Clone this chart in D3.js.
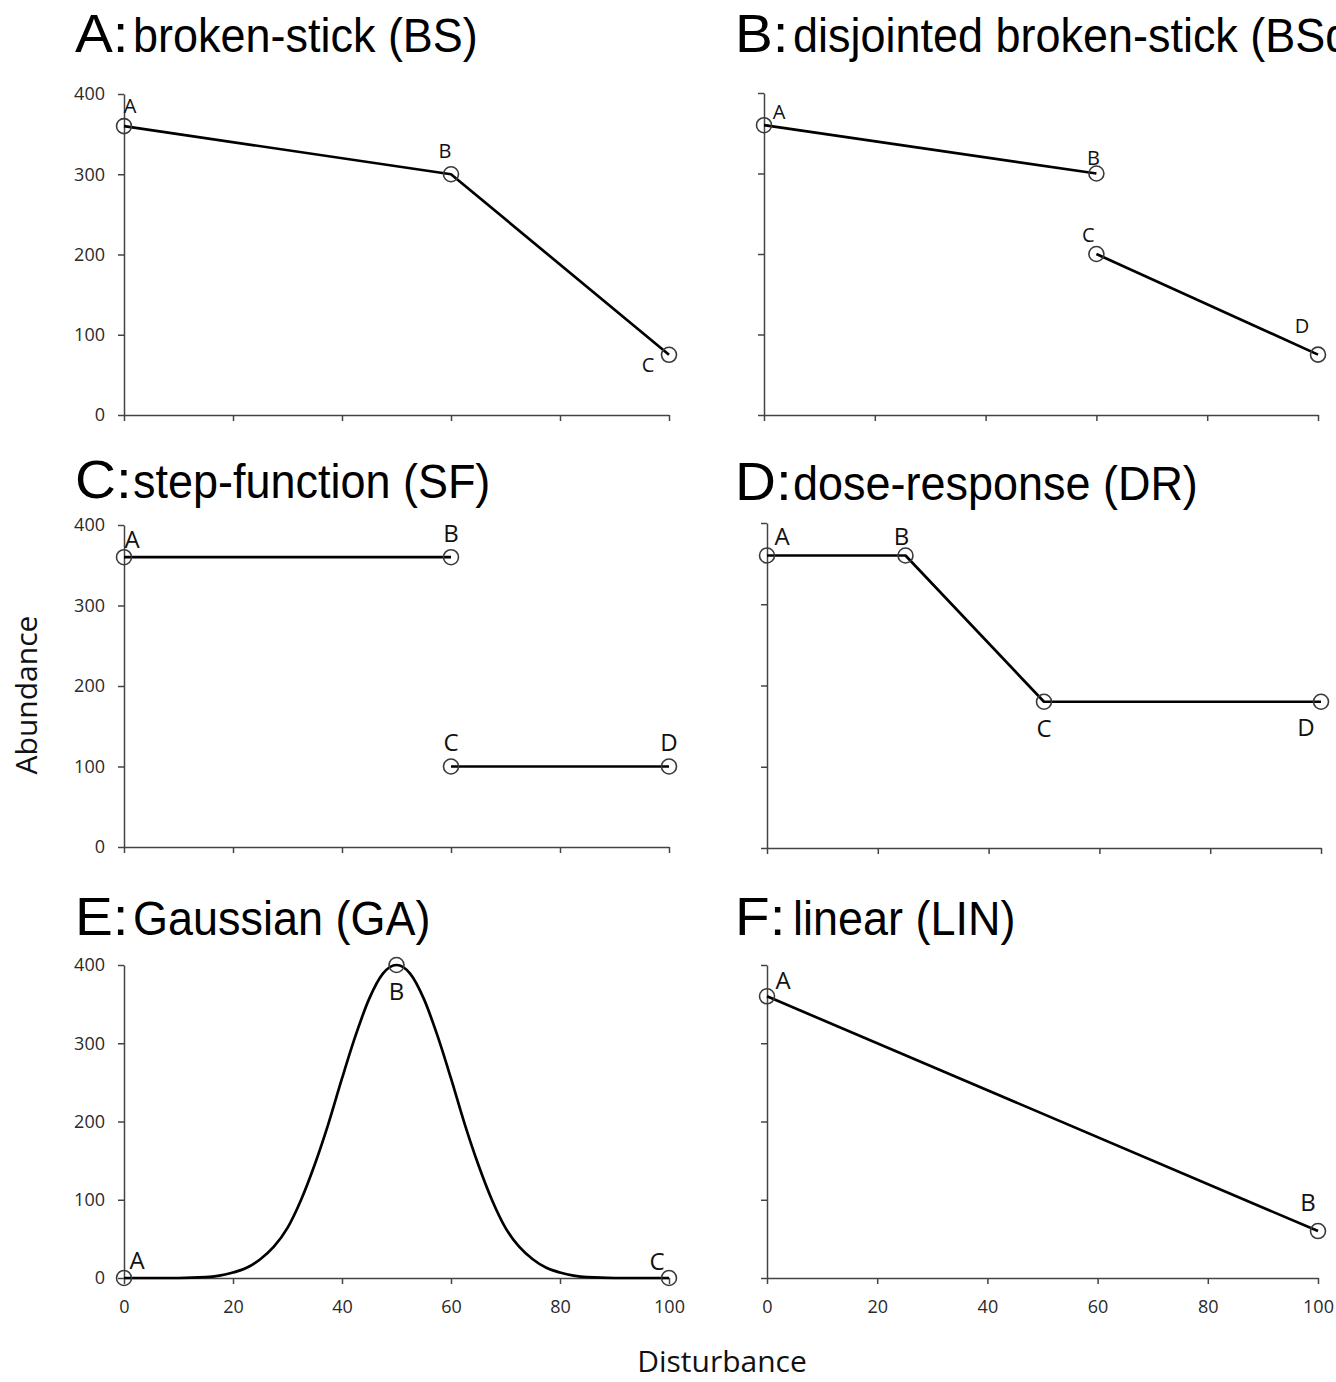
<!DOCTYPE html>
<html><head><meta charset="utf-8">
<script src="https://cdn.jsdelivr.net/npm/d3@7"></script>
<style>
body{margin:0;background:#fff;}
svg{display:block;}
</style></head>
<body>
<svg id="chart" width="1336" height="1382"></svg>
<script>
// ---------- DATA ----------
const panelLetters = ["A", "B", "C", "D", "E", "F"];
const panelTitles = ["broken-stick (BS)", "disjointed broken-stick (BSd)", "step-function (SF)",
                     "dose-response (DR)", "Gaussian (GA)", "linear (LIN)"];
const yTicks = [0, 100, 200, 300, 400];
const xTicks = [0, 20, 40, 60, 80, 100];
const xTickLabels = ["0", "20", "40", "60", "80", "100"];

// A: broken-stick
const bsX = [0, 60, 100];
const bsY = [360, 300, 75];
const bsNames = ["A", "B", "C"];
// B: disjointed broken-stick (two segments)
const bsdX1 = [0, 60];   const bsdY1 = [360, 300]; const bsdNames1 = ["A", "B"];
const bsdX2 = [60, 100]; const bsdY2 = [200, 75];  const bsdNames2 = ["C", "D"];
// C: step-function (two segments)
const sfX1 = [0, 60];   const sfY1 = [360, 360]; const sfNames1 = ["A", "B"];
const sfX2 = [60, 100]; const sfY2 = [100, 100]; const sfNames2 = ["C", "D"];
// D: dose-response
const drX = [0, 25, 50, 100];
const drY = [360, 360, 180, 180];
const drNames = ["A", "B", "C", "D"];
// E: Gaussian curve
const gaCurveX = [0, 5, 10, 15, 17.5, 20, 22.5, 25, 27.5, 30, 32.5, 35, 37.5, 40, 42.5, 45, 47.5, 50,
                  52.5, 55, 57.5, 60, 62.5, 65, 67.5, 70, 72.5, 75, 77.5, 80, 82.5, 85, 90, 95, 100];
const gaCurveY = [0, 0, 0, 1, 3, 7, 13, 24, 40, 64, 100, 145, 197, 255, 310, 357, 389, 400,
                  389, 357, 310, 255, 197, 145, 100, 64, 40, 24, 13, 7, 3, 1, 0, 0, 0];
const gaX = [0, 50, 100];
const gaY = [0, 400, 0];
const gaNames = ["A", "B", "C"];
// F: linear
const linX = [0, 100];
const linY = [360, 60];
const linNames = ["A", "B"];

// ---------- LAYOUT / STYLE ----------
const frames = [
  {x0: 124, x1: 669,  yTop: 94,  yBot: 415,  titleX: 75,  titleY: 52,  yLabels: true,  xLabels: false, lblSize: 20},
  {x0: 764, x1: 1318, yTop: 93,  yBot: 415,  titleX: 735, titleY: 52,  yLabels: false, xLabels: false, lblSize: 20},
  {x0: 124, x1: 669,  yTop: 525, yBot: 847,  titleX: 75,  titleY: 498, yLabels: true,  xLabels: false, lblSize: 24},
  {x0: 767, x1: 1321, yTop: 523, yBot: 848,  titleX: 735, titleY: 500, yLabels: false, xLabels: false, lblSize: 24},
  {x0: 124, x1: 669,  yTop: 965, yBot: 1278, titleX: 75,  titleY: 935, yLabels: true,  xLabels: true,  lblSize: 24},
  {x0: 767, x1: 1318, yTop: 965, yBot: 1278, titleX: 735, titleY: 935, yLabels: false, xLabels: true,  lblSize: 24}
];
// label offsets (dx, dy of baseline centre relative to the point), per panel
const labelOffsets = [
  [[6, -13], [-6, -16], [-21, 17]],
  [[15, -6], [-3, -9], [-8, -12], [-16, -22]],
  [[8, -9], [0, -15], [0, -16], [0, -16]],
  [[15, -11], [-4, -11], [0, 35], [-15, 34]],
  [[13, -9], [0, 35], [-12, -8]],
  [[16, -7], [-10, -20]]
];

const tickFont = "'Open Sans', 'Noto Sans', sans-serif";
const titleFont = "'Liberation Sans', Arial, sans-serif";
const svg = d3.select("#chart");

const zip = (xs, ys, ns) => xs.map((x, i) => ({x: x, y: ys[i], name: ns ? ns[i] : null}));
const panelSeries = [
  {lines: [zip(bsX, bsY, bsNames)], points: zip(bsX, bsY, bsNames), curve: d3.curveLinear},
  {lines: [zip(bsdX1, bsdY1, bsdNames1), zip(bsdX2, bsdY2, bsdNames2)],
   points: zip(bsdX1, bsdY1, bsdNames1).concat(zip(bsdX2, bsdY2, bsdNames2)), curve: d3.curveLinear},
  {lines: [zip(sfX1, sfY1, sfNames1), zip(sfX2, sfY2, sfNames2)],
   points: zip(sfX1, sfY1, sfNames1).concat(zip(sfX2, sfY2, sfNames2)), curve: d3.curveLinear},
  {lines: [zip(drX, drY, drNames)], points: zip(drX, drY, drNames), curve: d3.curveLinear},
  {lines: [zip(gaCurveX, gaCurveY)], points: zip(gaX, gaY, gaNames), curve: d3.curveMonotoneX},
  {lines: [zip(linX, linY, linNames)], points: zip(linX, linY, linNames), curve: d3.curveLinear}
];

panelLetters.forEach((letter, i) => {
  const f = frames[i];
  const ser = panelSeries[i];
  const x = d3.scaleLinear().domain([0, 100]).range([f.x0, f.x1]);
  const y = d3.scaleLinear().domain([0, 400]).range([f.yBot, f.yTop]);
  const g = svg.append("g");

  // title: panel letter + condensed description
  g.append("text").attr("transform", `translate(${f.titleX},${f.titleY}) scale(1.07,1)`)
    .attr("font-family", titleFont).attr("font-size", 53).attr("fill", "#000")
    .text(letter + ":");
  g.append("text").attr("transform", `translate(${f.titleX + 58},${f.titleY}) scale(0.937,1)`)
    .attr("font-family", titleFont).attr("font-size", 48).attr("fill", "#000")
    .text(panelTitles[i]);

  // y axis
  const yAxis = d3.axisLeft(y).tickValues(yTicks).tickSize(6).tickSizeOuter(0).tickPadding(13)
    .tickFormat(f.yLabels ? d3.format("d") : () => "");
  const ya = g.append("g").attr("transform", `translate(${f.x0},0)`).call(yAxis);
  // x axis
  const xAxis = d3.axisBottom(x).tickValues(xTicks).tickSize(6).tickSizeOuter(0).tickPadding(16)
    .tickFormat((d, k) => f.xLabels ? xTickLabels[k] : "");
  const xa = g.append("g").attr("transform", `translate(0,${f.yBot})`).call(xAxis);
  [ya, xa].forEach(a => {
    a.select(".domain").attr("stroke", "#444").attr("stroke-width", 1.5);
    a.selectAll(".tick line").attr("stroke", "#444").attr("stroke-width", 1.5);
    a.selectAll(".tick text").attr("font-family", tickFont).attr("font-size", 18).attr("fill", "#2a2a2a");
  });

  // lines
  const line = d3.line().x(d => x(d.x)).y(d => y(d.y)).curve(ser.curve);
  ser.lines.forEach(seg => {
    g.append("path").attr("d", line(seg)).attr("fill", "none")
      .attr("stroke", "#000").attr("stroke-width", 2.7).attr("stroke-linejoin", "round");
  });

  // markers
  g.selectAll("circle.m").data(ser.points).enter().append("circle")
    .attr("cx", d => x(d.x)).attr("cy", d => y(d.y)).attr("r", 7.5)
    .attr("fill", "none").attr("stroke", "#3a3a3a").attr("stroke-width", 1.6);

  // labels
  g.selectAll("text.lbl").data(ser.points).enter().append("text")
    .attr("x", (d, k) => x(d.x) + labelOffsets[i][k][0])
    .attr("y", (d, k) => y(d.y) + labelOffsets[i][k][1])
    .attr("text-anchor", "middle").attr("font-family", tickFont)
    .attr("font-size", f.lblSize).attr("fill", "#111").text(d => d.name);
});

// axis titles
svg.append("text").attr("transform", "translate(37,695) rotate(-90)")
  .attr("text-anchor", "middle").attr("font-family", tickFont).attr("font-size", 30)
  .attr("fill", "#111").text("Abundance");
svg.append("text").attr("x", 722).attr("y", 1372)
  .attr("text-anchor", "middle").attr("font-family", tickFont).attr("font-size", 30)
  .attr("fill", "#111").text("Disturbance");
</script>
</body></html>
